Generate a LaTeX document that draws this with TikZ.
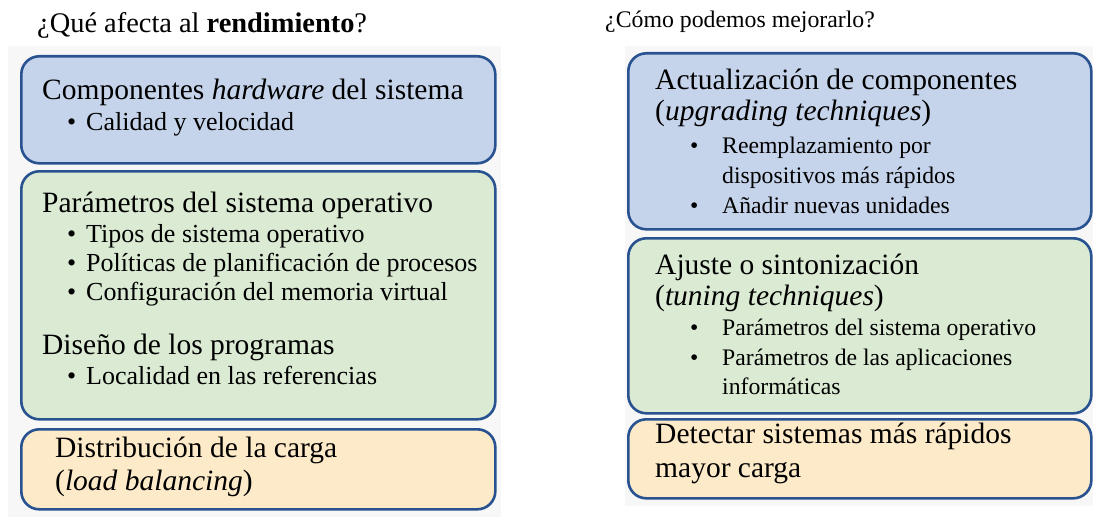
\documentclass[tikz,border=0pt]{standalone}
\usepackage{fontspec}
\setmainfont{Liberation Serif}
\definecolor{boxline}{RGB}{41,82,145}
\definecolor{bluefill}{RGB}{198,212,235}
\definecolor{greenfill}{RGB}{218,234,211}
\definecolor{orangefill}{RGB}{253,234,201}
\newcommand{\bul}[1]{\makebox[#1][l]{•}}

\begin{document}
\begin{tikzpicture}[x=1pt,y=-1pt,
  box/.style={draw=boxline,line width=2.6pt,rounded corners=18pt,inner sep=0pt,anchor=north west},
  head/.style={anchor=base west,inner sep=0pt,font=\fontsize{29.5}{33}\selectfont},
  item/.style={anchor=base west,inner sep=0pt,font=\fontsize{26}{30}\selectfont},
  ritem/.style={anchor=base west,inner sep=0pt,font=\fontsize{23.7}{28}\selectfont}]
\useasboundingbox (0,0) rectangle (1115,524);
\fill[black!3] (8,46) rectangle (501,517);
\fill[black!3] (625,46) rectangle (1093,506);

\node[anchor=base west,inner sep=0pt,font=\fontsize{28.4}{32}\selectfont] (q1) at (37,33) {¿Qué afecta al \textbf{rendimiento}?};
\node[anchor=base west,inner sep=0pt,font=\fontsize{23.8}{28}\selectfont] (q2) at (605,28) {¿Cómo podemos mejorarlo?};

\node[box,fill=bluefill,minimum width=474pt,minimum height=107pt] (hw) at (20,55) {};
\node[box,fill=greenfill,minimum width=474pt,minimum height=248pt] (so) at (20,170) {};
\node[box,fill=orangefill,minimum width=474pt,minimum height=80pt] (dist) at (20,428) {};
\node[box,fill=bluefill,minimum width=463pt,minimum height=176pt] (upg) at (627,52) {};
\node[box,fill=greenfill,minimum width=463pt,minimum height=175pt] (tun) at (627,237) {};
\node[box,fill=orangefill,minimum width=463pt,minimum height=79pt] (det) at (627,418) {};

\node[head] (hw1) at (42,100) {Componentes \textit{hardware} del sistema};
\node[item] (hw2) at (67,130) {\bul{19pt}Calidad y velocidad};

\node[head] (so1) at (42,212) {Parámetros del sistema operativo};
\node[item] (so2) at (67,242) {\bul{19pt}Tipos de sistema operativo};
\node[item] (so3) at (67,271) {\bul{19pt}Políticas de planificación de procesos};
\node[item] (so4) at (67,300) {\bul{19pt}Configuración del memoria virtual};
\node[head] (so5) at (42,354) {Diseño de los programas};
\node[item] (so6) at (67,384) {\bul{19pt}Localidad en las referencias};

\node[head] (dist1) at (55,457) {Distribución de la carga};
\node[head] (dist2) at (55,490) {(\textit{load balancing})};

\node[head] (upg1) at (655,90) {Actualización de componentes};
\node[head] (upg2) at (655,121) {(\textit{upgrading techniques})};
\node[ritem] (upg3) at (690,153) {\bul{32pt}Reemplazamiento por};
\node[ritem] (upg4) at (722,183) {dispositivos más rápidos};
\node[ritem] (upg5) at (690,213) {\bul{32pt}Añadir nuevas unidades};

\node[head] (tun1) at (655,274) {Ajuste o sintonización};
\node[head] (tun2) at (655,305) {(\textit{tuning techniques})};
\node[ritem] (tun3) at (690,335) {\bul{32pt}Parámetros del sistema operativo};
\node[ritem] (tun4) at (690,365) {\bul{32pt}Parámetros de las aplicaciones};
\node[ritem] (tun5) at (722,394) {informáticas};

\node[head] (det1) at (655,443) {Detectar sistemas más rápidos};
\node[head] (det2) at (655,477) {mayor carga};
\end{tikzpicture}
\end{document}
